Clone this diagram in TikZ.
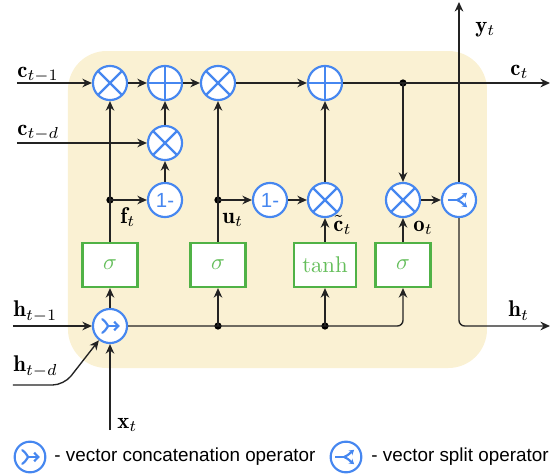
\documentclass[tikz,border=0pt]{standalone}
\usepackage{fontspec}
\newfontfamily\legendfont{Liberation Sans}
\usetikzlibrary{arrows.meta}
\definecolor{bgc}{RGB}{250,241,211}
\definecolor{opblue}{RGB}{70,135,240}
\definecolor{gateg}{RGB}{80,178,70}
\definecolor{gatet}{RGB}{100,190,90}
\definecolor{linec}{RGB}{35,35,35}
\tikzset{
  op/.style={circle, draw=opblue, line width=0.95pt, fill=white, minimum size=15pt, inner sep=0pt},
  mult/.style={op, path picture={
      \draw[opblue,line width=0.95pt] (path picture bounding box.north west) -- (path picture bounding box.south east)
        (path picture bounding box.north east) -- (path picture bounding box.south west);}},
  plus/.style={op, path picture={
      \draw[opblue,line width=0.95pt] (path picture bounding box.north) -- (path picture bounding box.south)
        (path picture bounding box.east) -- (path picture bounding box.west);}},
  onem/.style={op, font=\legendfont\small, text=opblue},
  concat/.style={op, path picture={
      \begin{scope}[shift={(path picture bounding box.center)}]
      \draw[opblue,line width=0.95pt,line cap=round] (-3.4pt,3pt) .. controls (-2pt,2.2pt) and (-1.2pt,0.4pt) .. (-0.8pt,0pt)
        .. controls (-1.2pt,-0.4pt) and (-2pt,-2.2pt) .. (-3.4pt,-3pt);
      \draw[opblue,line width=0.95pt,-{Straight Barb[length=1.8pt,width=3.8pt]}] (-1pt,0pt) -- (4.3pt,0pt);
      \end{scope}}},
  splitop/.style={op, path picture={
      \begin{scope}[shift={(path picture bounding box.center)}]
      \draw[opblue,line width=0.95pt] (-4.8pt,0pt) -- (-0.6pt,0pt);
      \draw[opblue,line width=0.95pt,-{Stealth[length=2.2pt,width=2.6pt]}] (-0.8pt,0pt) .. controls (0.5pt,0.6pt) .. (3.6pt,3.2pt);
      \draw[opblue,line width=0.95pt,-{Stealth[length=2.2pt,width=2.6pt]}] (-0.8pt,0pt) .. controls (0.5pt,-0.6pt) .. (3.6pt,-3.2pt);
      \end{scope}}},
  gate/.style={draw=gateg, line width=0.95pt, fill=white, minimum width=24.2pt, minimum height=19.4pt, inner sep=0pt, text=gatet},
  arr/.style={draw=linec, line width=0.6pt, -{Stealth[length=4.2pt,width=3.8pt]}},
  lbl/.style={inner sep=0pt, text=black, anchor=base west},
  dotc/.style={circle, fill=black, minimum size=3.2pt, inner sep=0pt}
}
\begin{document}
\begin{tikzpicture}[x=0.44pt,y=-0.44pt]
\useasboundingbox (0,0) rectangle (557,476);
\fill[bgc, rounded corners=17pt] (68,51) rectangle (487,368);

% coordinates
\coordinate (ctm1) at (17,83);
\coordinate (ctd) at (17,143);
\coordinate (ct) at (550,83);
\coordinate (htm1) at (13,326);
\coordinate (htd) at (13,385);
\coordinate (hbend) at (64,385);
\coordinate (xt) at (110,430);
\coordinate (yt) at (459,2);
\coordinate (ht) at (550,326);

% operators
\node[mult] (m1) at (110,83) {};
\node[plus] (p1) at (165,83) {};
\node[mult] (m2) at (218,83) {};
\node[plus] (p2) at (325,83) {};
\node[mult] (md) at (165,143) {};
\node[onem] (om1) at (165,200) {1-};
\node[onem] (om2) at (270,200) {1-};
\node[mult] (mc) at (325,200) {};
\node[mult] (mo) at (403,200) {};
\node[splitop] (sp) at (459,200) {};
\node[concat] (cc) at (110,326) {};

% gates
\node[gate] (gf) at (110,265) {$\sigma$};
\node[gate] (gu) at (218,265) {$\sigma$};
\node[gate, minimum width=27.3pt] (gc) at (325,265) {$\tanh$};
\node[gate] (go) at (403,265) {$\sigma$};

% junction dots
\node[dotc] (d1) at (403,83) {};
\node[dotc] (d2) at (110,200) {};
\node[dotc] (d3) at (218,200) {};
\node[dotc] (d4) at (218,326) {};
\node[dotc] (d5) at (325,326) {};

% connectors
\draw[arr] (ctm1) -- (m1);
\draw[arr] (m1) -- (p1);
\draw[arr] (p1) -- (m2);
\draw[arr] (m2) -- (p2);
\draw[arr] (p2) -- (ct);
\draw[arr] (d1.center) -- (mo);
\draw[arr] (ctd) -- (md);
\draw[arr] (md) -- (p1);
\draw[arr] (om1) -- (md);
\draw[arr] (gf) -- (m1);
\draw[arr] (d2.center) -- (om1);
\draw[arr] (gu) -- (m2);
\draw[arr] (d3.center) -- (om2);
\draw[arr] (om2) -- (mc);
\draw[arr] (gc) -- (mc);
\draw[arr] (mc) -- (p2);
\draw[arr] (go) -- (mo);
\draw[arr] (mo) -- (sp);
\draw[arr] (sp) -- (yt);
\draw[arr, rounded corners=2.5pt] (sp) |- (ht);
\draw[arr] (htm1) -- (cc);
\draw[arr, rounded corners=5pt] (htd) -- (hbend) -- (cc);
\draw[arr] (xt) -- (cc);
\draw[arr] (cc) -- (gf);
\draw[arr, rounded corners=2.5pt] (cc) -| (go);
\draw[arr] (d4.center) -- (gu);
\draw[arr] (d5.center) -- (gc);

% labels
\node[lbl] (lctm1) at (17,77) {$\mathbf{c}_{t-1}$};
\node[lbl] (lctd) at (17,135) {$\mathbf{c}_{t-d}$};
\node[lbl] (lhtm1) at (13,317) {$\mathbf{h}_{t-1}$};
\node[lbl] (lhtd) at (13,372) {$\mathbf{h}_{t-d}$};
\node[lbl] (lxt) at (117,428) {$\mathbf{x}_t$};
\node[lbl] (lft) at (120,223) {$\mathbf{f}_t$};
\node[lbl] (lut) at (222,223) {$\mathbf{u}_t$};
\node[lbl] (lcct) at (333,231) {$\tilde{\mathbf{c}}_t$};
\node[lbl] (lot) at (413,231) {$\mathbf{o}_t$};
\node[lbl] (lyt) at (475,32) {$\mathbf{y}_t$};
\node[lbl] (lct) at (510,75) {$\mathbf{c}_t$};
\node[lbl] (lht) at (508,317) {$\mathbf{h}_t$};

% legend
\node[concat, minimum size=13.5pt] (lg1) at (30,457) {};
\node[anchor=west, inner sep=0pt, font=\legendfont\fontsize{8.3pt}{10pt}\selectfont] (lt1) at (54,457) {- vector concatenation operator};
\node[splitop, minimum size=13.5pt] (lg2) at (346,457) {};
\node[anchor=west, inner sep=0pt, font=\legendfont\fontsize{8.3pt}{10pt}\selectfont] (lt2) at (371,457) {- vector split operator};
\end{tikzpicture}
\end{document}
